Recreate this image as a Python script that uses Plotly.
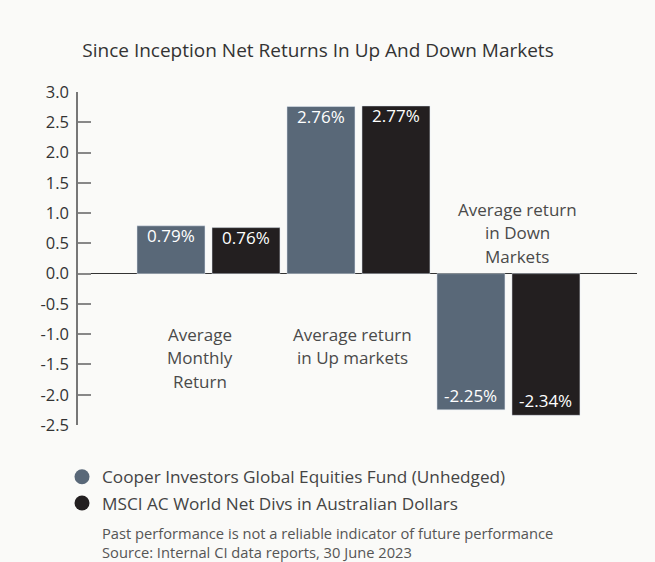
import plotly.graph_objects as go

categories = ["Average Monthly Return", "Average return in Up markets", "Average return in Down Markets"]
cat_label_lines = [["Average", "Monthly", "Return"], ["Average return", "in Up markets"], ["Average return", "in Down", "Markets"]]
fund_name = "Cooper Investors Global Equities Fund (Unhedged)"
bench_name = "MSCI AC World Net Divs in Australian Dollars"
fund_values = [0.79, 2.76, -2.25]
bench_values = [0.76, 2.77, -2.34]
y_ticks = [-2.5, -2.0, -1.5, -1.0, -0.5, 0.0, 0.5, 1.0, 1.5, 2.0, 2.5, 3.0]
footnote = ["Past performance is not a reliable indicator of future performance",
            "Source: Internal CI data reports, 30 June 2023"]

FUND_COLOR = "#596878"
BENCH_COLOR = "#231f20"
BG = "#fafaf8"
FONT = "Open Sans"

fig = go.Figure()
for vals, name, col, grp in [(fund_values, fund_name, FUND_COLOR, "a"), (bench_values, bench_name, BENCH_COLOR, "b")]:
    fig.add_trace(go.Bar(x=categories, y=vals, name=name, marker_color=col,
                         showlegend=False, offsetgroup=grp))
# legend entries with round markers
for name, col, grp in [(fund_name, FUND_COLOR, "a"), (bench_name, BENCH_COLOR, "b")]:
    fig.add_trace(go.Scatter(x=[None], y=[None], mode="markers", name=name,
                             legendgroup=grp,
                             marker=dict(symbol="circle", size=15, color=col)))

# value labels inside bar ends
for vals, dx in [(fund_values, -37.5), (bench_values, 37.5)]:
    for c, v in zip(categories, vals):
        fig.add_annotation(
            x=c, y=v, xref="x", yref="y", text=f"{v:.2f}%", showarrow=False,
            xshift=dx, yanchor="top" if v >= 0 else "bottom",
            yshift=3.5 if v >= 0 else 1,
            font=dict(family=FONT, size=17, color="white"),
        )

# category labels
label_anchor = [(-1.0, -8.5), (-1.0, -6), (1.06, 9)]
for c, lines, (yv, dx) in zip(categories, cat_label_lines, label_anchor):
    for k, ln in enumerate(lines):
        fig.add_annotation(
            x=c, y=yv, xref="x", yref="y", text=ln, showarrow=False,
            xshift=dx, yshift=-23.5 * k, yanchor="middle",
            font=dict(family=FONT, size=17, color="#4a4a4a"),
        )

for k, ln in enumerate(footnote):
    fig.add_annotation(
        xref="paper", yref="paper", x=(100 - 78) / 559, y=-(532.5 - 425) / 333,
        yshift=-19 * k, xanchor="left", yanchor="middle", align="left",
        showarrow=False, text=ln,
        font=dict(family=FONT, size=14.7, color="#555"),
    )

fig.update_layout(
    width=655, height=562,
    paper_bgcolor=BG, plot_bgcolor=BG,
    margin=dict(l=78, r=18, t=92, b=137),
    barmode="group", bargap=0.0, bargroupgap=7 / 75,
    title=dict(
        text="Since Inception Net Returns In Up And Down Markets",
        x=0.4855, xanchor="center", y=1 - 50 / 562, yanchor="middle",
        font=dict(family=FONT, size=19, color="#333"),
    ),
    font=dict(family=FONT, color="#333"),
    showlegend=True,
    legend=dict(
        x=(62 - 78) / 559, xanchor="left", y=-(459 - 425) / 333, yanchor="top",
        font=dict(family=FONT, size=17.2, color="#444"),
        bgcolor="rgba(0,0,0,0)", itemwidth=30, tracegroupgap=1,
    ),
)
fig.update_xaxes(
    range=[-0.87, 2.857], showticklabels=False, showgrid=False,
    showline=False, ticks="", zeroline=False,
)
fig.update_yaxes(
    range=[-2.5, 3.0], tickvals=y_ticks, ticktext=[f"{v:.1f}" for v in y_ticks],
    showgrid=False, showline=True, linecolor="#777", linewidth=1.5,
    ticks="inside", ticklen=13, tickcolor="#888", tickwidth=1.5,
    zeroline=True, zerolinecolor="#333", zerolinewidth=1.2,
    tickfont=dict(family=FONT, size=16.5, color="#333"), ticklabelstandoff=4,
)

fig.write_html("out.html", config={"displayModeBar": False},
               post_script="document.body.style.margin='0px';")
